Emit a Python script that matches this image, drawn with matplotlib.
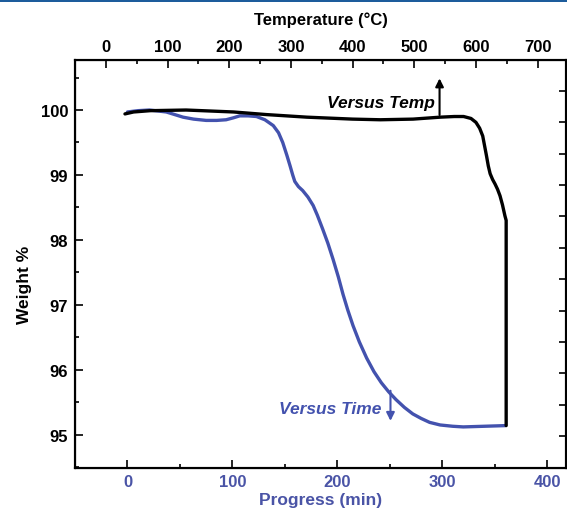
import matplotlib
matplotlib.use('Agg')
import matplotlib.pyplot as plt
from matplotlib.patches import Rectangle
from matplotlib.ticker import MultipleLocator

plt.rcParams['font.family'] = ['Liberation Sans', 'DejaVu Sans']
plt.rcParams['font.weight'] = 'bold'

# weight vs temperature (black, top axis)
temp_c = [31, 45, 72, 130, 207, 260, 326, 400, 445, 498, 542, 565, 580, 592,
          600, 606, 611, 614, 617, 620, 623, 627, 631, 635, 639, 643, 647,
          649, 649]
temp_wt = [99.94, 99.97, 99.99, 100.0, 99.97, 99.93, 99.89, 99.86, 99.85,
           99.86, 99.89, 99.90, 99.90, 99.87, 99.81, 99.72, 99.60, 99.45,
           99.30, 99.14, 99.02, 98.93, 98.86, 98.78, 98.68, 98.54, 98.37,
           98.30, 95.14]

# weight vs time (blue, bottom axis)
time_min = [0, 10, 21, 37, 45, 53, 63, 75, 85, 94, 101, 107, 115, 123, 131,
            139, 144, 148, 152, 155, 157.5, 159.5, 163, 167, 172, 177, 181,
            186, 191, 196, 201, 205.5, 210, 215, 221, 228, 235, 242, 249,
            256, 264, 272, 280, 288, 298, 310, 320, 340, 360]
time_wt = [99.97, 99.99, 100.0, 99.97, 99.93, 99.89, 99.86, 99.84, 99.84,
           99.85, 99.88, 99.91, 99.91, 99.90, 99.85, 99.76, 99.65, 99.50,
           99.30, 99.14, 99.00, 98.90, 98.82, 98.76, 98.66, 98.53, 98.38,
           98.17, 97.95, 97.70, 97.43, 97.16, 96.92, 96.68, 96.43, 96.18,
           95.97, 95.80, 95.66, 95.54, 95.42, 95.32, 95.25, 95.19, 95.15,
           95.13, 95.12, 95.13, 95.14]

time_ticks = [0, 100, 200, 300, 400]
temp_ticks = [0, 100, 200, 300, 400, 500, 600, 700]
wt_ticks = [95, 96, 97, 98, 99, 100]

BLUE = '#4352ae'
LBLUE = '#4a54a6'

fig = plt.figure(figsize=(5.67, 5.10), dpi=100)
ax = fig.add_axes([75/567, 1 - 468.5/510, 491/567, 408/510])

ax.plot(time_min, time_wt, color=BLUE, lw=2.4, solid_capstyle='round',
        solid_joinstyle='round', zorder=3)
ax.set_xlim(-50, 418)
ax.set_ylim(94.495, 100.778)
ax.set_xticks(time_ticks)
ax.xaxis.set_minor_locator(MultipleLocator(50))
ax.set_yticks(wt_ticks)
ax.yaxis.set_minor_locator(MultipleLocator(0.5))
ax.tick_params(which='both', direction='in', width=1.2, labelsize=12)
ax.tick_params(which='major', length=6)
ax.tick_params(which='minor', length=3)
ax.tick_params(axis='y', right=False, pad=5)
ax.tick_params(axis='x', top=False, labelcolor=LBLUE, pad=5)
ax.set_xlabel('Progress (min)', color=LBLUE, fontsize=12.5, fontweight='bold',
              labelpad=2)
ax.set_ylabel('Weight %', fontsize=12.5, fontweight='bold')
ax.yaxis.set_label_coords(-0.088, 0.45)
for s in ax.spines.values():
    s.set_linewidth(1.5)

# right side ticks (unlabelled)
axr = ax.twinx()
axr.set_ylim(0, 13)
axr.set_yticks(range(1, 13))
axr.tick_params(direction='in', length=5, width=1.2, labelright=False)

axt = ax.twiny()
axt.plot(temp_c, temp_wt, color='black', lw=2.4, solid_capstyle='round',
         solid_joinstyle='round', zorder=4)
axt.set_xlim(-50, 746)
axt.set_xticks(temp_ticks)
axt.xaxis.set_minor_locator(MultipleLocator(50))
axt.tick_params(which='both', direction='in', width=1.2, labelsize=12, pad=4)
axt.tick_params(which='major', length=6)
axt.tick_params(which='minor', length=3)
axt.set_xlabel('Temperature (°C)', fontsize=12, fontweight='bold', labelpad=11)
for s in axt.spines.values():
    s.set_linewidth(1.5)

# annotations
axt.annotate('', xy=(541, 100.53), xytext=(541, 99.88),
             arrowprops=dict(arrowstyle='-|>', color='black', lw=1.5,
                             mutation_scale=12))
axt.text(533, 100.12, 'Versus Temp', ha='right', va='center', fontsize=12.5,
         fontweight='bold', style='italic', color='black')
ax.annotate('', xy=(250.7, 95.17), xytext=(250.7, 95.72),
            arrowprops=dict(arrowstyle='-|>', color=BLUE, lw=1.5,
                            mutation_scale=12))
ax.text(242, 95.4, 'Versus Time', ha='right', va='center', fontsize=12.5,
        fontweight='bold', style='italic', color=BLUE)

fig.add_artist(Rectangle((0, 1 - 3/510), 1, 3/510, transform=fig.transFigure,
                         color='#1d5c9c', lw=0))

fig.savefig('out.png', dpi=100)
